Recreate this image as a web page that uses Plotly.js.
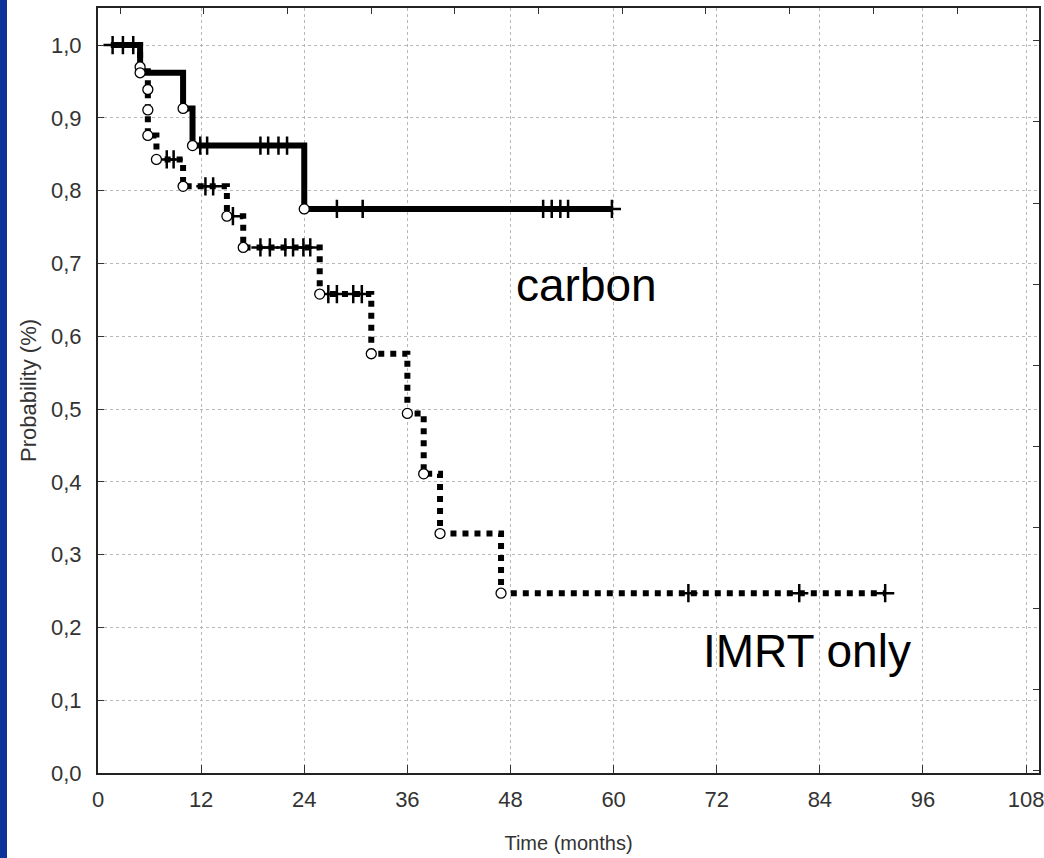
<!DOCTYPE html>
<html>
<head>
<meta charset="utf-8">
<script src="https://cdn.plot.ly/plotly-3.0.1.min.js"></script>
<style>
  html, body { margin: 0; padding: 0; background: #ffffff; }
  #wrap { position: relative; width: 1044px; height: 858px; }
  #strip { position: absolute; left: 0; top: 0; width: 7px; height: 858px; background: #0a3399; z-index: 5; }
  #chart { position: absolute; left: 0; top: 0; width: 1044px; height: 858px; }
</style>
</head>
<body>
<div id="wrap"><div id="strip"></div><div id="chart"></div></div>
<script>
// ---- data ----
const carbonStart = 1.5;
const carbonEventTimes = [4.9, 9.9, 11.0, 24.0];
const carbonEventSurv  = [0.962, 0.913, 0.862, 0.775];
const carbonEnd = 59.8;
const carbonCensorTimes = [11.9, 12.7, 18.9, 19.8, 21.0, 22.0, 27.8, 30.8, 51.8, 52.8, 53.8, 54.7, 59.8];

const imrtStart = 1.5;
const imrtEventTimes = [4.9, 5.8, 5.8, 5.8, 6.8, 9.9, 15.0, 16.9, 25.8, 31.8, 36.0, 37.9, 39.8, 46.9];
const imrtEventSurv  = [0.970, 0.939, 0.911, 0.876, 0.843, 0.806, 0.765, 0.722, 0.658, 0.576, 0.494, 0.411, 0.329, 0.247];
const imrtEnd = 91.6;
const imrtCensorTimes = [1.7, 2.9, 4.1, 8.0, 8.8, 12.5, 13.4, 15.7, 18.9, 20.0, 21.8, 22.7, 23.9, 24.7, 26.8, 27.8, 29.7, 30.7, 68.7, 81.6, 91.6];

const xTickVals = [0, 12, 24, 36, 48, 60, 72, 84, 96, 108];
const yTickVals = [0, 0.1, 0.2, 0.3, 0.4, 0.5, 0.6, 0.7, 0.8, 0.9, 1.0];
const labelCarbon = "carbon";
const labelImrt = "IMRT only";

// ---- helpers ----
function stepPath(start, times, surv, end) {
  const x = [start], y = [1.0];
  times.forEach((t, i) => { x.push(t); y.push(surv[i]); });
  x.push(end); y.push(surv[surv.length - 1]);
  return {x, y};
}
function survAt(t, times, surv) {
  let s = 1.0;
  for (let i = 0; i < times.length; i++) { if (times[i] <= t) s = surv[i]; }
  return s;
}

const cPath = stepPath(carbonStart, carbonEventTimes, carbonEventSurv, carbonEnd);
const iPath = stepPath(imrtStart, imrtEventTimes, imrtEventSurv, imrtEnd);

const traces = [
  { x: iPath.x, y: iPath.y, mode: 'lines', line: {shape: 'hv', color: '#000', width: 6, dash: '6px,6px'}, hoverinfo: 'skip' },
  { x: cPath.x, y: cPath.y, mode: 'lines', line: {shape: 'hv', color: '#000', width: 6}, hoverinfo: 'skip' },
  { x: imrtCensorTimes, y: imrtCensorTimes.map(t => survAt(t, imrtEventTimes, imrtEventSurv)), mode: 'markers',
    marker: {symbol: 'cross-thin', size: 13, line: {color: '#000', width: 2.5}} },
  { x: carbonCensorTimes, y: carbonCensorTimes.map(t => survAt(t, carbonEventTimes, carbonEventSurv)), mode: 'markers',
    marker: {symbol: 'cross-thin', size: 13, line: {color: '#000', width: 2.5}} },
  { x: imrtEventTimes, y: imrtEventSurv, mode: 'markers',
    marker: {symbol: 'circle', size: 10, color: '#fff', line: {color: '#000', width: 1.3}} },
  { x: carbonEventTimes, y: carbonEventSurv, mode: 'markers',
    marker: {symbol: 'circle', size: 10, color: '#fff', line: {color: '#000', width: 1.3}} },
  // invisible trace so the secondary (frame tick) axes are drawn
  { x: [null], y: [null], xaxis: 'x2', yaxis: 'y2', mode: 'markers', hoverinfo: 'skip', showlegend: false }
];

const fam = '"Liberation Sans", Arial, sans-serif';
const tickFont = {family: fam, size: 22, color: '#333'};

const layout = {
  width: 1044, height: 858,
  margin: {l: 98, r: 5, t: 8, b: 85},
  paper_bgcolor: '#fff', plot_bgcolor: '#fff',
  showlegend: false,
  separators: ', ',
  xaxis: {
    range: [0, 109.5], tickvals: xTickVals, ticktext: xTickVals.map(String),
    ticks: 'inside', ticklen: 8, tickcolor: '#333', tickwidth: 1,
    showline: true, linecolor: '#222', linewidth: 2, mirror: true,
    showgrid: true, gridcolor: '#b8b8b8', griddash: 'dot', gridwidth: 1,
    zeroline: false, tickfont: tickFont, ticklabelstandoff: 6, ticklabeloverflow: 'allow',
    title: {text: 'Time (months)', font: {family: fam, size: 20, color: '#333'}, standoff: 25}
  },
  yaxis: {
    range: [0, 1.051], tickvals: yTickVals, tickformat: '.1f',
    ticks: 'inside', ticklen: 6, tickcolor: '#333', tickwidth: 1,
    showline: true, linecolor: '#222', linewidth: 2, mirror: true,
    showgrid: true, gridcolor: '#b8b8b8', griddash: 'dot', gridwidth: 1,
    zeroline: false, tickfont: tickFont, ticklabelstandoff: 10,
    title: {text: 'Probability (%)', font: {family: fam, size: 22, color: '#333'}, standoff: 8}
  },
  xaxis2: {
    overlaying: 'x', side: 'top', anchor: 'y', range: [0, 109.5],
    tick0: 2.56, dtick: 9.74, ticks: 'inside', ticklen: 6, tickcolor: '#333',
    showticklabels: false, showgrid: false, zeroline: false, showline: false
  },
  yaxis2: {
    overlaying: 'y', side: 'right', anchor: 'x', range: [0, 1.051],
    tick0: 0.0033, dtick: 0.1114, ticks: 'inside', ticklen: 6, tickcolor: '#333',
    showticklabels: false, showgrid: false, zeroline: false, showline: false
  },
  annotations: [
    {x: 56.9, y: 0.67, xref: 'x', yref: 'y', text: labelCarbon, showarrow: false,
     font: {family: fam, size: 46, color: '#000'}},
    {x: 82.5, y: 0.168, xref: 'x', yref: 'y', text: labelImrt, showarrow: false,
     font: {family: fam, size: 46, color: '#000'}}
  ]
};

Plotly.newPlot('chart', traces, layout, {displayModeBar: false, staticPlot: true});
</script>
</body>
</html>
